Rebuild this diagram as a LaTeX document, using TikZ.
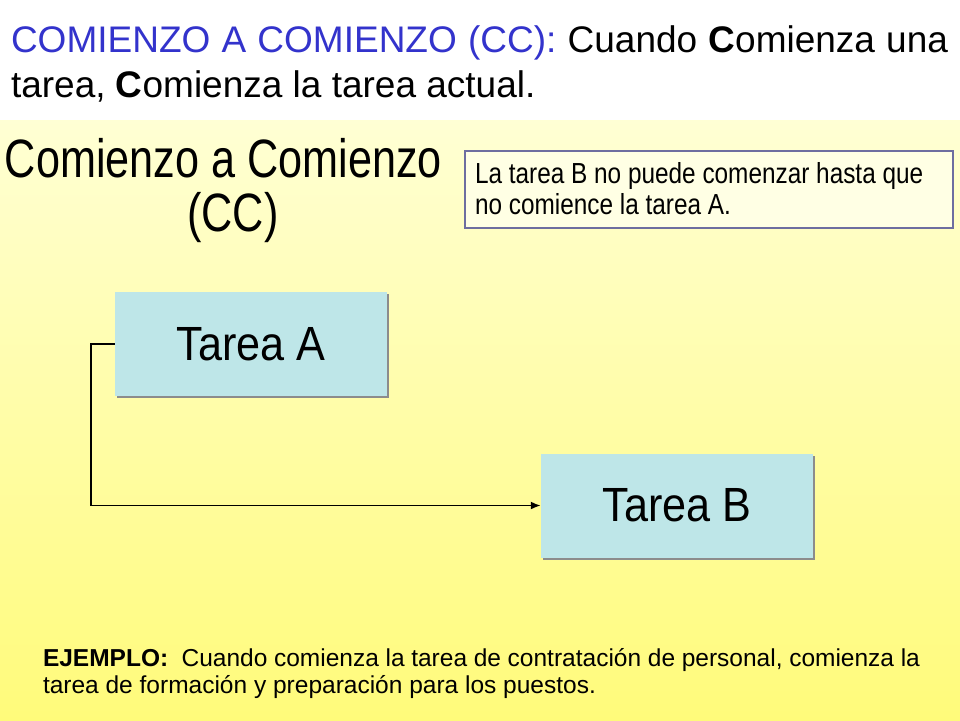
\documentclass[tikz,border=0pt]{standalone}
\usepackage{fontspec}
\setmainfont{Liberation Sans}
\newfontfamily\narrowfont[FakeStretch=0.8]{Liberation Sans}
\newfontfamily\notefont[FakeStretch=0.84]{Liberation Sans}
\newfontfamily\tareafont[FakeStretch=0.9]{Liberation Sans}
\usetikzlibrary{arrows.meta}
\definecolor{titleblue}{RGB}{51,51,204}
\definecolor{bgtop}{RGB}{255,255,212}
\definecolor{bgbot}{RGB}{255,251,122}
\definecolor{tareafill}{RGB}{190,230,232}
\definecolor{shadowgray}{RGB}{140,140,140}
\definecolor{noteborder}{RGB}{110,110,160}
\definecolor{notefill}{RGB}{255,255,228}
\tikzset{
  txt/.style={anchor=base west, inner sep=0pt, outer sep=0pt},
  tareabox/.style={draw=none, fill=tareafill, minimum width=272pt, minimum height=104pt,
    inner sep=0pt, font=\tareafont\fontsize{48}{56}\selectfont,
    preaction={fill=shadowgray, transform canvas={shift={(2pt,-2pt)}}}},
  notebox/.style={draw=noteborder, line width=1.8pt, fill=notefill},
  link/.style={line width=1.8pt, -{Latex[length=10pt,width=8pt]}}
}
\begin{document}
\begin{tikzpicture}[x=1pt,y=-1pt]
\useasboundingbox (0,0) rectangle (960,720);
\fill[white] (0,0) rectangle (960,120);
\shade[top color=bgtop, bottom color=bgbot] (0,120) rectangle (960,720);
% title
\node[txt] (t1) at (11,52) {\fontsize{37}{44}\selectfont\makebox[937pt][s]{{\color{titleblue}COMIENZO A COMIENZO (CC):} Cuando \textbf{C}omienza una}};
\node[txt] (t2) at (11,97) {\fontsize{37}{44}\selectfont tarea, \textbf{C}omienza la tarea actual.};
% heading
\node[txt] (h1) at (5,177) {\narrowfont\fontsize{54}{60}\selectfont Comienzo a Comienzo};
\node[anchor=base, inner sep=0pt] (h2) at (233,231) {\narrowfont\fontsize{54}{60}\selectfont (CC)};
% note box
\node[notebox, anchor=north west, minimum width=488pt, minimum height=77pt] (note) at (464,150) {};
\node[txt] (n1) at (475,183) {\notefont\fontsize{29}{32}\selectfont La tarea B no puede comenzar hasta que};
\node[txt] (n2) at (475,214) {\notefont\fontsize{29}{32}\selectfont no comience la tarea A.};
% tasks
\node[tareabox] (ta) at (251,344) {Tarea A};
\node[tareabox] (tb) at (677,505.5) {Tarea B};
\draw[link] (ta.west) -- ++(-24,0) |- (tb.west);
% example
\node[txt] (e1) at (43,666) {\fontsize{24.5}{27}\selectfont\makebox[877pt][s]{\textbf{EJEMPLO:}\ \ Cuando comienza la tarea de contratación de personal, comienza la}};
\node[txt] (e2) at (43,693) {\fontsize{24.5}{27}\selectfont tarea de formación y preparación para los puestos.};
\end{tikzpicture}
\end{document}
